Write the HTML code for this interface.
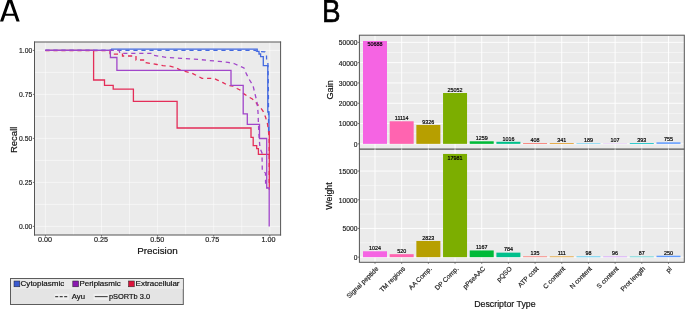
<!DOCTYPE html>
<html><head><meta charset="utf-8"><style>
html,body{margin:0;padding:0;background:#fff;}
body{width:685px;height:309px;overflow:hidden;}
svg{display:block;font-family:"Liberation Sans", sans-serif;will-change:transform;}
</style></head><body>
<svg width="685" height="309" viewBox="0 0 685 309">
<rect x="34.5" y="41.7" width="246.10000000000002" height="193.3" fill="#EBEBEB"/>
<line x1="45.40" y1="41.7" x2="45.40" y2="235.0" stroke="#fff" stroke-opacity="0.5" stroke-width="1"/>
<line x1="34.5" y1="226.40" x2="280.6" y2="226.40" stroke="#fff" stroke-opacity="0.5" stroke-width="1"/>
<line x1="73.45" y1="41.7" x2="73.45" y2="235.0" stroke="#fff" stroke-opacity="0.5" stroke-width="1"/>
<line x1="34.5" y1="204.40" x2="280.6" y2="204.40" stroke="#fff" stroke-opacity="0.5" stroke-width="1"/>
<line x1="101.50" y1="41.7" x2="101.50" y2="235.0" stroke="#fff" stroke-opacity="0.5" stroke-width="1"/>
<line x1="34.5" y1="182.40" x2="280.6" y2="182.40" stroke="#fff" stroke-opacity="0.5" stroke-width="1"/>
<line x1="129.55" y1="41.7" x2="129.55" y2="235.0" stroke="#fff" stroke-opacity="0.5" stroke-width="1"/>
<line x1="34.5" y1="160.40" x2="280.6" y2="160.40" stroke="#fff" stroke-opacity="0.5" stroke-width="1"/>
<line x1="157.60" y1="41.7" x2="157.60" y2="235.0" stroke="#fff" stroke-opacity="0.5" stroke-width="1"/>
<line x1="34.5" y1="138.40" x2="280.6" y2="138.40" stroke="#fff" stroke-opacity="0.5" stroke-width="1"/>
<line x1="185.65" y1="41.7" x2="185.65" y2="235.0" stroke="#fff" stroke-opacity="0.5" stroke-width="1"/>
<line x1="34.5" y1="116.40" x2="280.6" y2="116.40" stroke="#fff" stroke-opacity="0.5" stroke-width="1"/>
<line x1="213.70" y1="41.7" x2="213.70" y2="235.0" stroke="#fff" stroke-opacity="0.5" stroke-width="1"/>
<line x1="34.5" y1="94.40" x2="280.6" y2="94.40" stroke="#fff" stroke-opacity="0.5" stroke-width="1"/>
<line x1="241.75" y1="41.7" x2="241.75" y2="235.0" stroke="#fff" stroke-opacity="0.5" stroke-width="1"/>
<line x1="34.5" y1="72.40" x2="280.6" y2="72.40" stroke="#fff" stroke-opacity="0.5" stroke-width="1"/>
<line x1="269.80" y1="41.7" x2="269.80" y2="235.0" stroke="#fff" stroke-opacity="0.5" stroke-width="1"/>
<line x1="34.5" y1="50.40" x2="280.6" y2="50.40" stroke="#fff" stroke-opacity="0.5" stroke-width="1"/>
<polyline points="45.40,50.40 110.40,50.40 111.50,49.20 257.20,49.20 257.20,51.40 259.00,51.40 259.00,54.00 260.60,54.00 260.60,56.60 263.30,56.60 263.30,65.60 267.80,65.60 267.80,112.00 269.00,112.00 269.00,132.00" fill="none" stroke="#4369E0" stroke-width="1.3" stroke-linejoin="miter" stroke-linecap="butt"/>
<polyline points="45.40,50.60 110.00,50.60 110.00,54.20 122.50,54.20 122.50,56.00 136.00,56.00 136.00,60.00 145.50,60.00 146.00,62.70 157.00,64.50 163.00,65.70 170.00,66.20 175.00,67.40 180.00,69.80 185.00,71.30 192.00,73.20 197.00,75.80 202.00,78.30 214.00,78.40 218.00,80.30 223.00,82.70 228.00,85.40 233.00,86.00 237.00,88.50 240.00,90.00 244.00,93.90 248.00,96.50 252.00,98.80 255.00,101.00 257.00,104.00 260.00,107.00 263.00,111.00 265.50,117.00 267.50,124.00 268.50,131.00 269.20,140.00 269.20,186.00" fill="none" stroke="#E42D58" stroke-width="1.3" stroke-dasharray="4.2 3.8" stroke-linejoin="miter" stroke-linecap="butt"/>
<polyline points="45.40,50.40 93.60,50.40 93.60,80.00 104.50,80.00 104.50,85.30 113.20,85.30 113.20,89.20 133.40,89.20 133.40,101.30 177.10,101.30 177.10,128.00 251.00,128.00 251.00,137.30 253.20,137.30 253.20,145.70 256.70,145.70 256.70,148.60 258.40,148.60 258.40,154.40 269.30,154.40 269.30,190.00" fill="none" stroke="#E42D58" stroke-width="1.3" stroke-linejoin="miter" stroke-linecap="butt"/>
<polyline points="269.30,131.00 269.30,155.00" fill="none" stroke="#E42D58" stroke-width="1.3" stroke-linejoin="miter" stroke-linecap="butt"/>
<polyline points="45.40,50.40 255.50,50.40 257.50,51.60 265.00,51.80 266.50,54.00 266.60,61.00 267.90,63.00 268.40,90.00 268.60,132.00" fill="none" stroke="#4369E0" stroke-width="1.3" stroke-dasharray="4.2 3.8" stroke-linejoin="miter" stroke-linecap="butt"/>
<polyline points="45.40,50.40 119.00,50.40 120.00,53.40 152.50,53.40 153.50,55.30 166.00,57.30 181.00,58.30 199.00,59.50 219.00,61.40 228.00,62.40 234.00,63.50 240.00,66.30 244.00,68.00 246.00,73.00 249.00,79.00 253.00,85.50 255.00,94.00 257.00,102.00 258.00,112.00 258.30,120.00 258.70,130.00 259.30,140.00 260.00,148.00 262.00,153.00 262.30,171.00 265.50,173.00 265.60,186.00 267.50,188.00" fill="none" stroke="#A146CA" stroke-width="1.3" stroke-dasharray="4.2 3.8" stroke-linejoin="miter" stroke-linecap="butt"/>
<polyline points="45.40,50.40 110.40,50.40 110.40,57.50 116.90,57.50 116.90,70.30 231.00,70.30 231.00,85.30 243.20,85.30 243.20,113.80 247.30,113.80 247.30,124.30 259.50,124.30 259.50,138.50 266.70,138.50 266.70,188.00 269.20,188.00 269.20,226.40" fill="none" stroke="#A146CA" stroke-width="1.3" stroke-linejoin="miter" stroke-linecap="butt"/>
<line x1="34.0" y1="42.0" x2="281.1" y2="42.0" stroke="#5a5a5a" stroke-width="1"/>
<line x1="34.0" y1="235.0" x2="281.1" y2="235.0" stroke="#555" stroke-width="1.1"/>
<line x1="34.5" y1="41.5" x2="34.5" y2="235.5" stroke="#555" stroke-width="1"/>
<line x1="280.6" y1="41.5" x2="280.6" y2="235.5" stroke="#555" stroke-width="1"/>
<line x1="45.40" y1="235.0" x2="45.40" y2="236.6" stroke="#555" stroke-width="0.8"/>
<line x1="32.9" y1="226.40" x2="34.5" y2="226.40" stroke="#555" stroke-width="0.8"/>
<text x="44.90" y="242.20" font-size="7" text-anchor="middle" textLength="14" lengthAdjust="spacingAndGlyphs" fill="#222" stroke="#222" stroke-width="0.18">0.00</text>
<text x="32.30" y="228.90" font-size="7" text-anchor="end" textLength="13.2" lengthAdjust="spacingAndGlyphs" fill="#222" stroke="#222" stroke-width="0.18">0.00</text>
<line x1="101.50" y1="235.0" x2="101.50" y2="236.6" stroke="#555" stroke-width="0.8"/>
<line x1="32.9" y1="182.40" x2="34.5" y2="182.40" stroke="#555" stroke-width="0.8"/>
<text x="101.10" y="242.20" font-size="7" text-anchor="middle" textLength="14" lengthAdjust="spacingAndGlyphs" fill="#222" stroke="#222" stroke-width="0.18">0.25</text>
<text x="32.30" y="184.90" font-size="7" text-anchor="end" textLength="13.2" lengthAdjust="spacingAndGlyphs" fill="#222" stroke="#222" stroke-width="0.18">0.25</text>
<line x1="157.60" y1="235.0" x2="157.60" y2="236.6" stroke="#555" stroke-width="0.8"/>
<line x1="32.9" y1="138.40" x2="34.5" y2="138.40" stroke="#555" stroke-width="0.8"/>
<text x="157.30" y="242.20" font-size="7" text-anchor="middle" textLength="14" lengthAdjust="spacingAndGlyphs" fill="#222" stroke="#222" stroke-width="0.18">0.50</text>
<text x="32.30" y="140.90" font-size="7" text-anchor="end" textLength="13.2" lengthAdjust="spacingAndGlyphs" fill="#222" stroke="#222" stroke-width="0.18">0.50</text>
<line x1="213.70" y1="235.0" x2="213.70" y2="236.6" stroke="#555" stroke-width="0.8"/>
<line x1="32.9" y1="94.40" x2="34.5" y2="94.40" stroke="#555" stroke-width="0.8"/>
<text x="212.20" y="242.20" font-size="7" text-anchor="middle" textLength="14" lengthAdjust="spacingAndGlyphs" fill="#222" stroke="#222" stroke-width="0.18">0.75</text>
<text x="32.30" y="96.90" font-size="7" text-anchor="end" textLength="13.2" lengthAdjust="spacingAndGlyphs" fill="#222" stroke="#222" stroke-width="0.18">0.75</text>
<line x1="269.80" y1="235.0" x2="269.80" y2="236.6" stroke="#555" stroke-width="0.8"/>
<line x1="32.9" y1="50.40" x2="34.5" y2="50.40" stroke="#555" stroke-width="0.8"/>
<text x="268.50" y="242.20" font-size="7" text-anchor="middle" textLength="14" lengthAdjust="spacingAndGlyphs" fill="#222" stroke="#222" stroke-width="0.18">1.00</text>
<text x="32.30" y="52.90" font-size="7" text-anchor="end" textLength="13.2" lengthAdjust="spacingAndGlyphs" fill="#222" stroke="#222" stroke-width="0.18">1.00</text>
<text x="157.5" y="254.3" font-size="9.8" text-anchor="middle" textLength="40.6" lengthAdjust="spacingAndGlyphs" fill="#111" stroke="#111" stroke-width="0.18">Precision</text>
<text transform="translate(17.2,139.85) rotate(-90)" font-size="9.6" text-anchor="middle" textLength="26.4" lengthAdjust="spacingAndGlyphs" fill="#111" stroke="#111" stroke-width="0.18">Recall</text>
<path d="M0,21.6 L7.7,-0.5 L12,-0.5 L19.7,21.6 L16.5,21.6 L14.48,15.8 L5.22,15.8 L3.2,21.6 Z M5.95,13.7 L13.75,13.7 L9.85,2.5 Z" fill="#000" fill-rule="evenodd"/>
<text x="322.0" y="21.6" font-size="31.5" textLength="18.6" lengthAdjust="spacingAndGlyphs" fill="#000" stroke="#000" stroke-width="0.6">B</text>
<rect x="10.5" y="278.5" width="172.8" height="26" fill="#E4E4E4" stroke="#5c5c5c" stroke-width="1"/>
<rect x="11" y="279" width="171.8" height="10" fill="#EAEAEA"/>
<rect x="54.6" y="293.8" width="14.3" height="6.1" fill="#EFEFEF"/>
<rect x="93.6" y="293.8" width="15" height="6.1" fill="#EFEFEF"/>
<rect x="14" y="281" width="5.8" height="5.8" fill="#3B5BD0" stroke="#222" stroke-width="0.5"/>
<text x="20.6" y="285.9" font-size="7" textLength="43.6" lengthAdjust="spacingAndGlyphs" fill="#111" stroke="#111" stroke-width="0.18">Cytoplasmic</text>
<rect x="72.8" y="281" width="5.8" height="5.8" fill="#8A1AB0" stroke="#222" stroke-width="0.5"/>
<text x="79.4" y="285.9" font-size="7" textLength="41.4" lengthAdjust="spacingAndGlyphs" fill="#111" stroke="#111" stroke-width="0.18">Periplasmic</text>
<rect x="128.5" y="281" width="5.8" height="5.8" fill="#DC143C" stroke="#222" stroke-width="0.5"/>
<text x="135.6" y="285.9" font-size="7" textLength="43.9" lengthAdjust="spacingAndGlyphs" fill="#111" stroke="#111" stroke-width="0.18">Extracellular</text>
<line x1="55.2" y1="296.6" x2="67.2" y2="296.6" stroke="#444" stroke-width="1.1" stroke-dasharray="3 1.5"/>
<text x="71.8" y="298.8" font-size="7" textLength="13.2" lengthAdjust="spacingAndGlyphs" fill="#111" stroke="#111" stroke-width="0.18">Ayu</text>
<line x1="94.8" y1="296.6" x2="107.7" y2="296.6" stroke="#444" stroke-width="1.1"/>
<text x="108.9" y="298.8" font-size="7" textLength="41.2" lengthAdjust="spacingAndGlyphs" fill="#111" stroke="#111" stroke-width="0.18">pSORTb 3.0</text>
<rect x="359.4" y="35.2" width="324.9" height="227.10000000000002" fill="#EBEBEB"/>
<line x1="375.00" y1="35.2" x2="375.00" y2="262.3" stroke="#fff" stroke-opacity="0.9" stroke-width="1"/>
<line x1="401.68" y1="35.2" x2="401.68" y2="262.3" stroke="#fff" stroke-opacity="0.9" stroke-width="1"/>
<line x1="428.36" y1="35.2" x2="428.36" y2="262.3" stroke="#fff" stroke-opacity="0.9" stroke-width="1"/>
<line x1="455.04" y1="35.2" x2="455.04" y2="262.3" stroke="#fff" stroke-opacity="0.9" stroke-width="1"/>
<line x1="481.72" y1="35.2" x2="481.72" y2="262.3" stroke="#fff" stroke-opacity="0.9" stroke-width="1"/>
<line x1="508.40" y1="35.2" x2="508.40" y2="262.3" stroke="#fff" stroke-opacity="0.9" stroke-width="1"/>
<line x1="535.08" y1="35.2" x2="535.08" y2="262.3" stroke="#fff" stroke-opacity="0.9" stroke-width="1"/>
<line x1="561.76" y1="35.2" x2="561.76" y2="262.3" stroke="#fff" stroke-opacity="0.9" stroke-width="1"/>
<line x1="588.44" y1="35.2" x2="588.44" y2="262.3" stroke="#fff" stroke-opacity="0.9" stroke-width="1"/>
<line x1="615.12" y1="35.2" x2="615.12" y2="262.3" stroke="#fff" stroke-opacity="0.9" stroke-width="1"/>
<line x1="641.80" y1="35.2" x2="641.80" y2="262.3" stroke="#fff" stroke-opacity="0.9" stroke-width="1"/>
<line x1="668.48" y1="35.2" x2="668.48" y2="262.3" stroke="#fff" stroke-opacity="0.9" stroke-width="1"/>
<line x1="359.4" y1="143.85" x2="684.3" y2="143.85" stroke="#fff" stroke-opacity="0.9" stroke-width="1"/>
<line x1="359.4" y1="133.70" x2="684.3" y2="133.70" stroke="#fff" stroke-opacity="0.45" stroke-width="1"/>
<line x1="359.4" y1="123.55" x2="684.3" y2="123.55" stroke="#fff" stroke-opacity="0.9" stroke-width="1"/>
<line x1="359.4" y1="113.40" x2="684.3" y2="113.40" stroke="#fff" stroke-opacity="0.45" stroke-width="1"/>
<line x1="359.4" y1="103.25" x2="684.3" y2="103.25" stroke="#fff" stroke-opacity="0.9" stroke-width="1"/>
<line x1="359.4" y1="93.10" x2="684.3" y2="93.10" stroke="#fff" stroke-opacity="0.45" stroke-width="1"/>
<line x1="359.4" y1="82.95" x2="684.3" y2="82.95" stroke="#fff" stroke-opacity="0.9" stroke-width="1"/>
<line x1="359.4" y1="72.80" x2="684.3" y2="72.80" stroke="#fff" stroke-opacity="0.45" stroke-width="1"/>
<line x1="359.4" y1="62.65" x2="684.3" y2="62.65" stroke="#fff" stroke-opacity="0.9" stroke-width="1"/>
<line x1="359.4" y1="52.50" x2="684.3" y2="52.50" stroke="#fff" stroke-opacity="0.45" stroke-width="1"/>
<line x1="359.4" y1="42.35" x2="684.3" y2="42.35" stroke="#fff" stroke-opacity="0.9" stroke-width="1"/>
<line x1="359.4" y1="257.15" x2="684.3" y2="257.15" stroke="#fff" stroke-opacity="0.9" stroke-width="1"/>
<line x1="359.4" y1="242.80" x2="684.3" y2="242.80" stroke="#fff" stroke-opacity="0.45" stroke-width="1"/>
<line x1="359.4" y1="228.45" x2="684.3" y2="228.45" stroke="#fff" stroke-opacity="0.9" stroke-width="1"/>
<line x1="359.4" y1="214.10" x2="684.3" y2="214.10" stroke="#fff" stroke-opacity="0.45" stroke-width="1"/>
<line x1="359.4" y1="199.75" x2="684.3" y2="199.75" stroke="#fff" stroke-opacity="0.9" stroke-width="1"/>
<line x1="359.4" y1="185.40" x2="684.3" y2="185.40" stroke="#fff" stroke-opacity="0.45" stroke-width="1"/>
<line x1="359.4" y1="171.05" x2="684.3" y2="171.05" stroke="#fff" stroke-opacity="0.9" stroke-width="1"/>
<line x1="359.4" y1="156.70" x2="684.3" y2="156.70" stroke="#fff" stroke-opacity="0.45" stroke-width="1"/>
<rect x="363.00" y="40.95" width="24.0" height="102.90" fill="#F564E3"/>
<rect x="363.00" y="251.27" width="24.0" height="5.88" fill="#F564E3"/>
<rect x="389.68" y="121.29" width="24.0" height="22.56" fill="#FF64B0"/>
<rect x="389.68" y="254.17" width="24.0" height="2.98" fill="#FF64B0"/>
<rect x="416.36" y="124.92" width="24.0" height="18.93" fill="#B79F00"/>
<rect x="416.36" y="240.95" width="24.0" height="16.20" fill="#B79F00"/>
<rect x="443.04" y="92.99" width="24.0" height="50.86" fill="#7CAE00"/>
<rect x="443.04" y="153.94" width="24.0" height="103.21" fill="#7CAE00"/>
<rect x="469.72" y="141.29" width="24.0" height="2.56" fill="#00BA38"/>
<rect x="469.72" y="250.45" width="24.0" height="6.70" fill="#00BA38"/>
<rect x="496.40" y="141.79" width="24.0" height="2.06" fill="#00C08B"/>
<rect x="496.40" y="252.65" width="24.0" height="4.50" fill="#00C08B"/>
<rect x="523.08" y="143.02" width="24.0" height="0.83" fill="#F8766D"/>
<rect x="523.08" y="256.38" width="24.0" height="0.77" fill="#F8766D"/>
<rect x="549.76" y="143.16" width="24.0" height="0.69" fill="#DE8C00"/>
<rect x="549.76" y="256.51" width="24.0" height="0.64" fill="#DE8C00"/>
<rect x="576.44" y="143.47" width="24.0" height="0.38" fill="#00B4F0"/>
<rect x="576.44" y="256.59" width="24.0" height="0.56" fill="#00B4F0"/>
<rect x="603.12" y="143.63" width="24.0" height="0.22" fill="#C77CFF"/>
<rect x="603.12" y="256.60" width="24.0" height="0.55" fill="#C77CFF"/>
<rect x="629.80" y="143.05" width="24.0" height="0.80" fill="#00BFC4"/>
<rect x="629.80" y="256.65" width="24.0" height="0.50" fill="#00BFC4"/>
<rect x="656.48" y="142.32" width="24.0" height="1.53" fill="#619CFF"/>
<rect x="656.48" y="255.71" width="24.0" height="1.44" fill="#619CFF"/>
<text x="375.00" y="46.15" font-size="5.4" text-anchor="middle" fill="#000" stroke="#000" stroke-width="0.18">50688</text>
<text x="375.00" y="250.07" font-size="5.4" text-anchor="middle" fill="#000" stroke="#000" stroke-width="0.18">1024</text>
<text x="401.68" y="120.09" font-size="5.4" text-anchor="middle" fill="#000" stroke="#000" stroke-width="0.18">11114</text>
<text x="401.68" y="252.97" font-size="5.4" text-anchor="middle" fill="#000" stroke="#000" stroke-width="0.18">520</text>
<text x="428.36" y="123.72" font-size="5.4" text-anchor="middle" fill="#000" stroke="#000" stroke-width="0.18">9326</text>
<text x="428.36" y="239.75" font-size="5.4" text-anchor="middle" fill="#000" stroke="#000" stroke-width="0.18">2823</text>
<text x="455.04" y="91.79" font-size="5.4" text-anchor="middle" fill="#000" stroke="#000" stroke-width="0.18">25052</text>
<text x="455.04" y="159.54" font-size="5.4" text-anchor="middle" fill="#000" stroke="#000" stroke-width="0.18">17981</text>
<text x="481.72" y="140.09" font-size="5.4" text-anchor="middle" fill="#000" stroke="#000" stroke-width="0.18">1259</text>
<text x="481.72" y="249.25" font-size="5.4" text-anchor="middle" fill="#000" stroke="#000" stroke-width="0.18">1167</text>
<text x="508.40" y="140.59" font-size="5.4" text-anchor="middle" fill="#000" stroke="#000" stroke-width="0.18">1016</text>
<text x="508.40" y="251.45" font-size="5.4" text-anchor="middle" fill="#000" stroke="#000" stroke-width="0.18">784</text>
<text x="535.08" y="141.82" font-size="5.4" text-anchor="middle" fill="#000" stroke="#000" stroke-width="0.18">408</text>
<text x="535.08" y="255.18" font-size="5.4" text-anchor="middle" fill="#000" stroke="#000" stroke-width="0.18">135</text>
<text x="561.76" y="141.96" font-size="5.4" text-anchor="middle" fill="#000" stroke="#000" stroke-width="0.18">341</text>
<text x="561.76" y="255.31" font-size="5.4" text-anchor="middle" fill="#000" stroke="#000" stroke-width="0.18">111</text>
<text x="588.44" y="142.27" font-size="5.4" text-anchor="middle" fill="#000" stroke="#000" stroke-width="0.18">189</text>
<text x="588.44" y="255.39" font-size="5.4" text-anchor="middle" fill="#000" stroke="#000" stroke-width="0.18">98</text>
<text x="615.12" y="142.43" font-size="5.4" text-anchor="middle" fill="#000" stroke="#000" stroke-width="0.18">107</text>
<text x="615.12" y="255.40" font-size="5.4" text-anchor="middle" fill="#000" stroke="#000" stroke-width="0.18">96</text>
<text x="641.80" y="141.85" font-size="5.4" text-anchor="middle" fill="#000" stroke="#000" stroke-width="0.18">393</text>
<text x="641.80" y="255.45" font-size="5.4" text-anchor="middle" fill="#000" stroke="#000" stroke-width="0.18">87</text>
<text x="668.48" y="141.12" font-size="5.4" text-anchor="middle" fill="#000" stroke="#000" stroke-width="0.18">755</text>
<text x="668.48" y="254.51" font-size="5.4" text-anchor="middle" fill="#000" stroke="#000" stroke-width="0.18">250</text>
<rect x="359.4" y="35.2" width="324.9" height="227.10000000000002" fill="none" stroke="#555" stroke-width="1"/>
<line x1="359.4" y1="149.1" x2="684.3" y2="149.1" stroke="#555" stroke-width="1.1"/>
<line x1="375.00" y1="148.40" x2="375.00" y2="149.80" stroke="#DDD" stroke-width="1"/>
<line x1="401.68" y1="148.40" x2="401.68" y2="149.80" stroke="#DDD" stroke-width="1"/>
<line x1="428.36" y1="148.40" x2="428.36" y2="149.80" stroke="#DDD" stroke-width="1"/>
<line x1="455.04" y1="148.40" x2="455.04" y2="149.80" stroke="#DDD" stroke-width="1"/>
<line x1="481.72" y1="148.40" x2="481.72" y2="149.80" stroke="#DDD" stroke-width="1"/>
<line x1="508.40" y1="148.40" x2="508.40" y2="149.80" stroke="#DDD" stroke-width="1"/>
<line x1="535.08" y1="148.40" x2="535.08" y2="149.80" stroke="#DDD" stroke-width="1"/>
<line x1="561.76" y1="148.40" x2="561.76" y2="149.80" stroke="#DDD" stroke-width="1"/>
<line x1="588.44" y1="148.40" x2="588.44" y2="149.80" stroke="#DDD" stroke-width="1"/>
<line x1="615.12" y1="148.40" x2="615.12" y2="149.80" stroke="#DDD" stroke-width="1"/>
<line x1="641.80" y1="148.40" x2="641.80" y2="149.80" stroke="#DDD" stroke-width="1"/>
<line x1="668.48" y1="148.40" x2="668.48" y2="149.80" stroke="#DDD" stroke-width="1"/>
<line x1="357.79999999999995" y1="143.85" x2="359.4" y2="143.85" stroke="#555" stroke-width="0.8"/>
<text x="357.40" y="146.75" font-size="7" text-anchor="end" textLength="3.72" lengthAdjust="spacingAndGlyphs" fill="#222" stroke="#222" stroke-width="0.18">0</text>
<line x1="357.79999999999995" y1="123.55" x2="359.4" y2="123.55" stroke="#555" stroke-width="0.8"/>
<text x="357.40" y="126.45" font-size="7" text-anchor="end" textLength="18.60" lengthAdjust="spacingAndGlyphs" fill="#222" stroke="#222" stroke-width="0.18">10000</text>
<line x1="357.79999999999995" y1="103.25" x2="359.4" y2="103.25" stroke="#555" stroke-width="0.8"/>
<text x="357.40" y="106.15" font-size="7" text-anchor="end" textLength="18.60" lengthAdjust="spacingAndGlyphs" fill="#222" stroke="#222" stroke-width="0.18">20000</text>
<line x1="357.79999999999995" y1="82.95" x2="359.4" y2="82.95" stroke="#555" stroke-width="0.8"/>
<text x="357.40" y="85.85" font-size="7" text-anchor="end" textLength="18.60" lengthAdjust="spacingAndGlyphs" fill="#222" stroke="#222" stroke-width="0.18">30000</text>
<line x1="357.79999999999995" y1="62.65" x2="359.4" y2="62.65" stroke="#555" stroke-width="0.8"/>
<text x="357.40" y="65.55" font-size="7" text-anchor="end" textLength="18.60" lengthAdjust="spacingAndGlyphs" fill="#222" stroke="#222" stroke-width="0.18">40000</text>
<line x1="357.79999999999995" y1="42.35" x2="359.4" y2="42.35" stroke="#555" stroke-width="0.8"/>
<text x="357.40" y="45.25" font-size="7" text-anchor="end" textLength="18.60" lengthAdjust="spacingAndGlyphs" fill="#222" stroke="#222" stroke-width="0.18">50000</text>
<line x1="357.79999999999995" y1="257.15" x2="359.4" y2="257.15" stroke="#555" stroke-width="0.8"/>
<text x="357.40" y="260.05" font-size="7" text-anchor="end" textLength="3.72" lengthAdjust="spacingAndGlyphs" fill="#222" stroke="#222" stroke-width="0.18">0</text>
<line x1="357.79999999999995" y1="228.45" x2="359.4" y2="228.45" stroke="#555" stroke-width="0.8"/>
<text x="357.40" y="231.35" font-size="7" text-anchor="end" textLength="14.88" lengthAdjust="spacingAndGlyphs" fill="#222" stroke="#222" stroke-width="0.18">5000</text>
<line x1="357.79999999999995" y1="199.75" x2="359.4" y2="199.75" stroke="#555" stroke-width="0.8"/>
<text x="357.40" y="202.65" font-size="7" text-anchor="end" textLength="18.60" lengthAdjust="spacingAndGlyphs" fill="#222" stroke="#222" stroke-width="0.18">10000</text>
<line x1="357.79999999999995" y1="171.05" x2="359.4" y2="171.05" stroke="#555" stroke-width="0.8"/>
<text x="357.40" y="173.95" font-size="7" text-anchor="end" textLength="18.60" lengthAdjust="spacingAndGlyphs" fill="#222" stroke="#222" stroke-width="0.18">15000</text>
<line x1="375.00" y1="262.3" x2="375.00" y2="263.8" stroke="#555" stroke-width="0.8"/>
<text transform="translate(378.90,269.20) rotate(-45)" font-size="6.6" text-anchor="end" fill="#222" stroke="#222" stroke-width="0.18">Signal peptide</text>
<line x1="401.68" y1="262.3" x2="401.68" y2="263.8" stroke="#555" stroke-width="0.8"/>
<text transform="translate(405.58,269.20) rotate(-45)" font-size="6.6" text-anchor="end" fill="#222" stroke="#222" stroke-width="0.18">TM regions</text>
<line x1="428.36" y1="262.3" x2="428.36" y2="263.8" stroke="#555" stroke-width="0.8"/>
<text transform="translate(432.26,269.20) rotate(-45)" font-size="6.6" text-anchor="end" fill="#222" stroke="#222" stroke-width="0.18">AA Comp.</text>
<line x1="455.04" y1="262.3" x2="455.04" y2="263.8" stroke="#555" stroke-width="0.8"/>
<text transform="translate(458.94,269.20) rotate(-45)" font-size="6.6" text-anchor="end" fill="#222" stroke="#222" stroke-width="0.18">DP Comp.</text>
<line x1="481.72" y1="262.3" x2="481.72" y2="263.8" stroke="#555" stroke-width="0.8"/>
<text transform="translate(485.62,269.20) rotate(-45)" font-size="6.6" text-anchor="end" fill="#222" stroke="#222" stroke-width="0.18">pPseAAC</text>
<line x1="508.40" y1="262.3" x2="508.40" y2="263.8" stroke="#555" stroke-width="0.8"/>
<text transform="translate(512.30,269.20) rotate(-45)" font-size="6.6" text-anchor="end" fill="#222" stroke="#222" stroke-width="0.18">pQSO</text>
<line x1="535.08" y1="262.3" x2="535.08" y2="263.8" stroke="#555" stroke-width="0.8"/>
<text transform="translate(538.98,269.20) rotate(-45)" font-size="6.6" text-anchor="end" fill="#222" stroke="#222" stroke-width="0.18">ATP cost</text>
<line x1="561.76" y1="262.3" x2="561.76" y2="263.8" stroke="#555" stroke-width="0.8"/>
<text transform="translate(565.66,269.20) rotate(-45)" font-size="6.6" text-anchor="end" fill="#222" stroke="#222" stroke-width="0.18">C content</text>
<line x1="588.44" y1="262.3" x2="588.44" y2="263.8" stroke="#555" stroke-width="0.8"/>
<text transform="translate(592.34,269.20) rotate(-45)" font-size="6.6" text-anchor="end" fill="#222" stroke="#222" stroke-width="0.18">N content</text>
<line x1="615.12" y1="262.3" x2="615.12" y2="263.8" stroke="#555" stroke-width="0.8"/>
<text transform="translate(619.02,269.20) rotate(-45)" font-size="6.6" text-anchor="end" fill="#222" stroke="#222" stroke-width="0.18">S content</text>
<line x1="641.80" y1="262.3" x2="641.80" y2="263.8" stroke="#555" stroke-width="0.8"/>
<text transform="translate(645.70,269.20) rotate(-45)" font-size="6.6" text-anchor="end" fill="#222" stroke="#222" stroke-width="0.18">Prot length</text>
<line x1="668.48" y1="262.3" x2="668.48" y2="263.8" stroke="#555" stroke-width="0.8"/>
<text transform="translate(672.38,269.20) rotate(-45)" font-size="6.6" text-anchor="end" fill="#222" stroke="#222" stroke-width="0.18">pI</text>
<text transform="translate(332.6,89.85) rotate(-90)" font-size="8.4" text-anchor="middle" textLength="19.3" lengthAdjust="spacingAndGlyphs" fill="#111" stroke="#111" stroke-width="0.18">Gain</text>
<text transform="translate(332.0,196.0) rotate(-90)" font-size="8.3" text-anchor="middle" textLength="27.3" lengthAdjust="spacingAndGlyphs" fill="#111" stroke="#111" stroke-width="0.18">Weight</text>
<text x="504.9" y="307.3" font-size="8.5" text-anchor="middle" textLength="61.5" lengthAdjust="spacingAndGlyphs" fill="#111" stroke="#111" stroke-width="0.18">Descriptor Type</text>
</svg>
</body></html>
